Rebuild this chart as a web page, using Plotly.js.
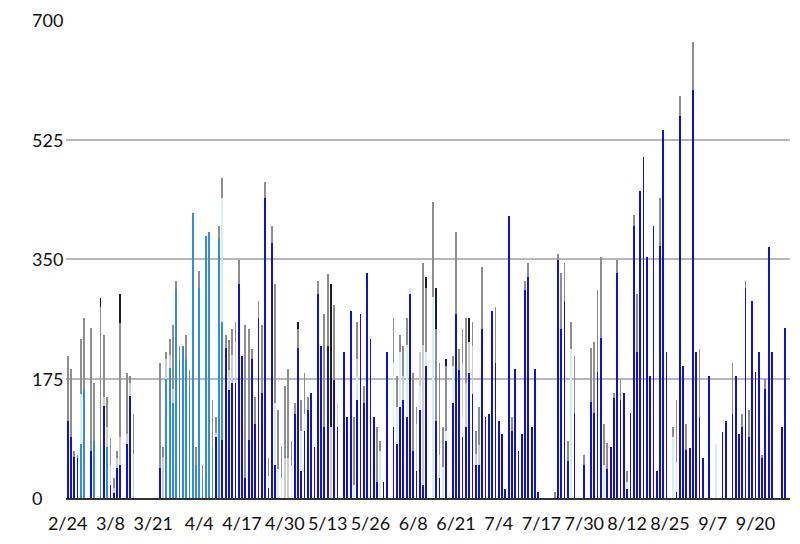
<!DOCTYPE html>
<html><head><meta charset="utf-8">
<script src="https://cdn.plot.ly/plotly-3.0.1.min.js"></script>
<style>html,body{margin:0;padding:0;background:#fff}#chart{width:800px;height:544px}</style>
</head><body><div id="chart"></div>
<script>
// Category labels (one per day)
const days = [
"2/24","2/25","2/26","2/27","2/28","2/29",
"3/1","3/2","3/3","3/4","3/5","3/6","3/7","3/8","3/9","3/10","3/11","3/12","3/13","3/14","3/15","3/16","3/17","3/18","3/19","3/20","3/21","3/22","3/23","3/24","3/25","3/26","3/27","3/28","3/29","3/30","3/31",
"4/1","4/2","4/3","4/4","4/5","4/6","4/7","4/8","4/9","4/10","4/11","4/12","4/13","4/14","4/15","4/16","4/17","4/18","4/19","4/20","4/21","4/22","4/23","4/24","4/25","4/26","4/27","4/28","4/29","4/30",
"5/1","5/2","5/3","5/4","5/5","5/6","5/7","5/8","5/9","5/10","5/11","5/12","5/13","5/14","5/15","5/16","5/17","5/18","5/19","5/20","5/21","5/22","5/23","5/24","5/25","5/26","5/27","5/28","5/29","5/30","5/31",
"6/1","6/2","6/3","6/4","6/5","6/6","6/7","6/8","6/9","6/10","6/11","6/12","6/13","6/14","6/15","6/16","6/17","6/18","6/19","6/20","6/21","6/22","6/23","6/24","6/25","6/26","6/27","6/28","6/29","6/30",
"7/1","7/2","7/3","7/4","7/5","7/6","7/7","7/8","7/9","7/10","7/11","7/12","7/13","7/14","7/15","7/16","7/17","7/18","7/19","7/20","7/21","7/22","7/23","7/24","7/25","7/26","7/27","7/28","7/29","7/30","7/31",
"8/1","8/2","8/3","8/4","8/5","8/6","8/7","8/8","8/9","8/10","8/11","8/12","8/13","8/14","8/15","8/16","8/17","8/18","8/19","8/20","8/21","8/22","8/23","8/24","8/25","8/26","8/27","8/28","8/29","8/30","8/31",
"9/1","9/2","9/3","9/4","9/5","9/6","9/7","9/8","9/9","9/10","9/11","9/12","9/13","9/14","9/15","9/16","9/17","9/18","9/19","9/20","9/21","9/22","9/23","9/24","9/25","9/26","9/27","9/28","9/29"
];
const tickLabels = ["2/24","3/8","3/21","4/4","4/17","4/30","5/13","5/26","6/8","6/21","7/4","7/17","7/30","8/12","8/25","9/7","9/20"];
const yTicks = [0,175,350,525,700];

// Stacked series, bottom to top
const darkBlue = [
113,89,60,58,0,0,0,69,0,0,
0,135,0,19,7,44,49,0,79,149,
0,0,0,0,0,0,0,0,44,0,
0,0,0,0,0,0,0,0,0,0,
0,0,0,0,0,89,0,85,219,158,
169,169,314,208,29,85,204,108,264,154,
439,14,374,48,0,0,0,0,0,123,
219,39,98,129,154,74,299,223,104,223,
0,173,104,0,214,119,274,0,143,269,
139,329,233,119,24,0,0,214,0,104,
79,134,143,119,299,69,39,129,19,193,
0,0,113,29,0,83,0,139,269,188,
89,104,183,153,48,48,248,119,123,274,
198,113,93,13,413,98,189,69,94,304,
324,104,189,9,0,0,0,0,0,348,
248,289,54,0,124,0,0,48,0,140,
124,184,234,0,43,74,146,329,143,154,
13,124,399,214,449,499,353,179,399,39,
369,539,214,0,0,9,559,193,70,73,
598,214,119,58,0,179,0,0,0,97,
113,0,123,179,94,104,308,89,289,184,
214,59,159,368,214,0,0,104,249
];
const mediumBlue = [
0,0,0,0,79,159,0,0,84,0,
79,0,74,0,0,0,0,0,0,0,
0,0,0,0,0,0,0,0,0,0,
174,190,139,305,201,223,204,164,418,48,
308,29,384,389,74,0,379,173,0,0
];
const lightCyan = [
0,0,0,0,74,0,0,0,0,0,
0,0,0,0,0,0,0,0,0,0,
0,0,0,0,0,0,0,0,0,0,
0,0,0,0,0,0,0,0,0,0,
0,0,0,0,0,0,0,181,0,0,
0,0,0,0,0,0,0,0,0,0,
0,18,0,91,43,29,0,0,48,0,
0,59,25,0,0,0,0,0,0,0,
0,0,0,0,0,0,0,19,35,0,
0,0,0,0,0,69,0,0,0,94,
55,80,0,105,9,0,0,35,0,21,
0,295,0,0,45,15,9,54,0,0,
30,0,0,0,0,0,0,0,0,0,
0,0,0,0,0,0,0,0,0,0,
0,0,0,0,0,0,0,0,0,0,
0,0,0,218,0,0,0,0,0,0,
0,0,0,48,0,0,0,0,0,0,
11,19,0,0,0,0,0,0,0,0,
0,0,0,0,89,44,0,0,0,0,
0,0,0,0,0,0,0,79,0,0
];
const lightGray = [
0,0,0,0,0,0,0,0,0,0,
0,13,30,29,8,14,40,0,15,20,
64,0,0,0,0,0,0,0,0,60,
30,19,20,0,0,0,0,0,0,0,
0,0,0,0,0,6,0,0,0,30,
40,60,0,0,0,0,0,0,0,0,
0,0,0,0,0,0,58,58,0,0,
0,0,0,0,0,0,0,0,0,0,
104,0,35,0,0,0,0,0,26,0,
0,0,0,0,0,0,0,0,0,0,
0,0,35,0,0,0,70,50,205,0,
0,0,0,34,0,0,0,0,0,0,
79,64,46,69,16,30
];
const gray = [
95,100,9,5,80,105,0,180,85,0,
200,91,44,40,14,11,167,0,89,10,
59,0,0,0,0,0,0,0,154,14,
10,24,94,13,22,0,35,24,0,26,
25,19,0,0,69,24,20,29,20,44,
39,29,34,0,224,163,14,40,24,99,
24,26,25,174,86,45,106,131,35,16,
29,45,60,19,0,0,19,0,165,105,
0,110,0,0,0,0,0,100,54,0,
25,0,0,0,80,14,0,0,0,66,
44,25,45,39,0,114,25,0,120,94,
0,139,135,135,59,95,0,15,120,30,
50,96,0,36,34,56,91,0,0,0,
81,0,0,0,0,21,0,0,0,14,
20,0,0,0,0,0,0,0,9,10,
81,55,29,40,84,0,0,15,0,79,
105,121,119,61,37,0,8,19,31,0,
15,0,15,85,0,0,0,0,0,0,
70,0,0,0,15,91,30,0,38,0,
70,0,99,0,0,0,0,0,0,0,
0,0,75,0,0,19,10,40,0,0,
0,4,15
];
const black = [
0,0,0,0,0,0,0,0,0,0,
14,0,0,0,0,0,43,0,0,0,
0,0,0,0,0,0,0,0,0,0,
0,0,0,0,0,0,0,0,0,0,
0,0,0,0,0,0,0,0,0,0,
0,0,0,0,0,0,0,0,0,0,
0,0,0,0,0,0,0,0,0,0,
10,0,0,0,0,0,0,0,0,0,
209,0,0,0,0,0,0,0,0,0,
0,0,0,0,0,0,24,0,0,0,
0,0,0,0,0,0,0,0,0,16,
0,0,60,0,0,10,0,0,0,0,
0,0,34
];

const series = [
  {name:"Series 1", y:darkBlue,   color:"#1010d8"},
  {name:"Series 2", y:mediumBlue, color:"#2f8de6"},
  {name:"Series 3", y:lightCyan,  color:"#d2eff6"},
  {name:"Series 4", y:lightGray,  color:"#cdcdcd"},
  {name:"Series 5", y:gray,       color:"#8e8e8e"},
  {name:"Series 6", y:black,      color:"#1e1e1e"}
];

const traces = series.map(s => ({
  type:"bar",
  name:s.name,
  x:days.slice(0, s.y.length),
  y:s.y,
  marker:{color:s.color, line:{width:0}},
  hoverinfo:"x+y+name"
}));

const font = {family:"Lato, 'Open Sans', sans-serif", size:18, color:"#111"};

// y tick labels drawn left-aligned, as in the reference
const yLabelAnnotations = yTicks.map(v => ({
  xref:"paper", yref:"y",
  x:-36/724, y:v,
  xanchor:"left", yanchor:"middle",
  text:String(v), showarrow:false,
  font:font
}));

const layout = {
  width:800, height:544,
  margin:{l:66, r:10, t:20, b:46},
  paper_bgcolor:"#fff", plot_bgcolor:"#fff",
  barmode:"stack", bargap:0.46,
  showlegend:false,
  font:font,
  xaxis:{
    type:"category",
    categoryorder:"array", categoryarray:days,
    range:[-0.5, 219.5],
    tickmode:"array", tickvals:tickLabels, ticktext:tickLabels,
    tickangle:0,
    ticks:"outside", ticklen:8, tickcolor:"rgba(0,0,0,0)",
    showgrid:false, zeroline:false,
    showline:true, linecolor:"#333", linewidth:2,
    tickfont:font
  },
  yaxis:{
    range:[0,700],
    tickmode:"array", tickvals:yTicks,
    showticklabels:false,
    showgrid:true, gridcolor:"#b8b8b8", gridwidth:2,
    zeroline:false, showline:false
  },
  annotations:yLabelAnnotations
};

Plotly.newPlot("chart", traces, layout, {displayModeBar:false, staticPlot:true});
</script></body></html>
